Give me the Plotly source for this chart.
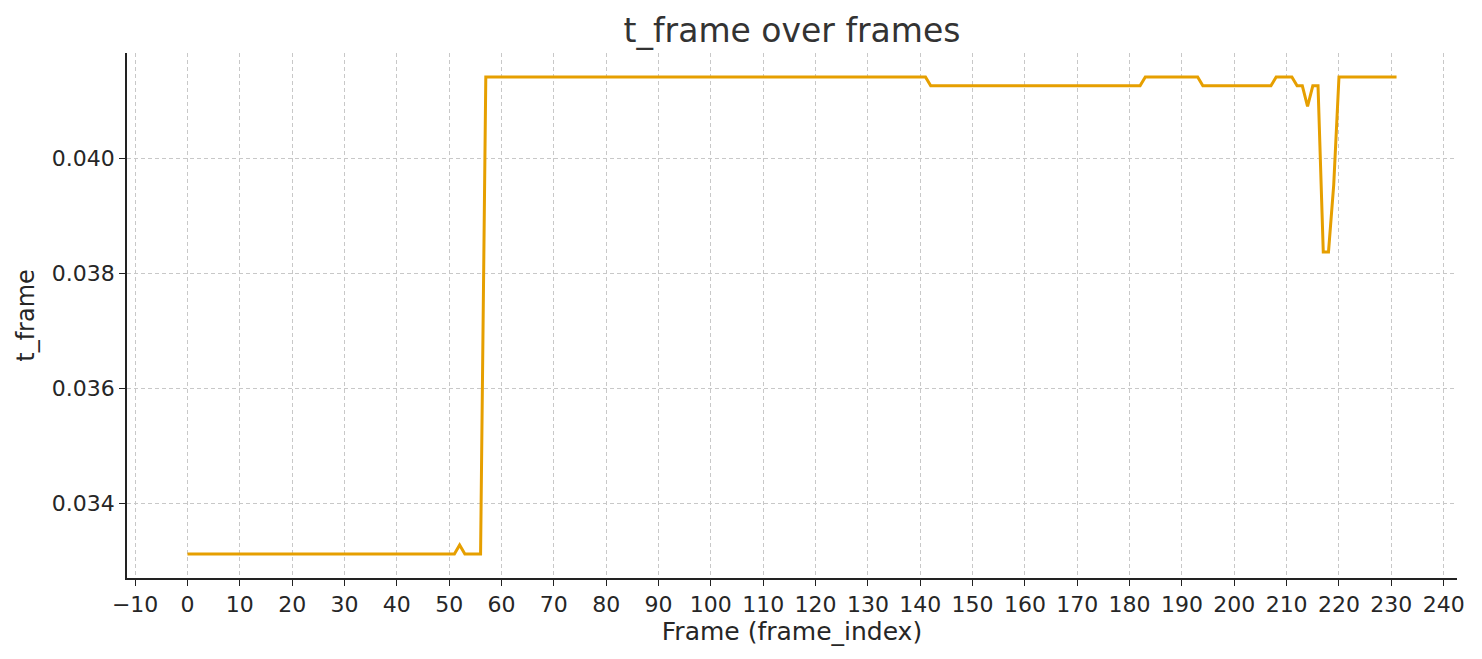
import plotly.graph_objects as go

# Run-length description of the t_frame series (value, number of frames)
run_values = [0.033113, 0.03327, 0.033113, 0.041426, 0.04127, 0.041426, 0.04127,
              0.041426, 0.04127, 0.04091, 0.04127, 0.038377, 0.03955, 0.041426]
run_lengths = [52, 1, 4, 85, 41, 11, 14, 4, 2, 1, 2, 2, 1, 12]

t_frame = []
for v, n in zip(run_values, run_lengths):
    t_frame.extend([v] * n)
frame_index = list(range(len(t_frame)))

x_ticks = list(range(-10, 241, 10))
y_ticks = [0.034, 0.036, 0.038, 0.040]

font = "DejaVu Sans"
fig = go.Figure()
fig.add_trace(go.Scatter(x=frame_index, y=t_frame, mode="lines",
                         line=dict(color="#E69F00", width=3), showlegend=False))

fig.update_layout(
    width=1482, height=659,
    margin=dict(l=119, r=33, t=45, b=89),
    plot_bgcolor="white", paper_bgcolor="white",
    font=dict(family=font, size=22, color="#262626"),
    title=dict(text="t_frame over frames", x=0.5, xref="paper", xanchor="center", y=0.966, yanchor="middle",
               font=dict(size=33, color="#333333")),
)
grid = dict(showgrid=True, gridcolor="#c8c8c8", griddash="4px,3px", gridwidth=1)
fig.update_xaxes(range=[-11.55, 242.55], tickvals=x_ticks, ticktext=[("−" + str(-v)) if v < 0 else str(v) for v in x_ticks],
                 ticks="outside", ticklen=6, tickwidth=1.3, tickcolor="#222",
                 showline=True, linecolor="#222", linewidth=1.5, zeroline=False,
                 title=dict(text="Frame (frame_index)", standoff=6, font=dict(size=25)), **grid)
fig.update_yaxes(range=[0.032697, 0.041842], tickvals=y_ticks, tickformat=".3f",
                 ticks="outside", ticklen=6, tickwidth=1.3, tickcolor="#222",
                 showline=True, linecolor="#222", linewidth=1.5, zeroline=False,
                 title=dict(text="t_frame", standoff=10, font=dict(size=24)), **grid)

fig.write_html("out.html")
